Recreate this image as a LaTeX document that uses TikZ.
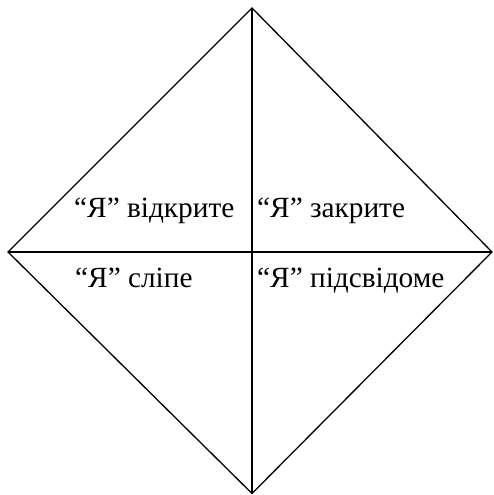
\documentclass[tikz,border=0pt]{standalone}
\usepackage{fontspec}
\setmainfont{Liberation Serif}
\begin{document}
\begin{tikzpicture}[x=1pt,y=1pt,
  edge/.style={draw=black,line width=1.3pt,line join=miter},
  lbl/.style={anchor=base west,inner sep=0pt,font=\fontsize{29.3}{33}\selectfont}]
\useasboundingbox (0,0) rectangle (493,495);
\coordinate (T) at (252,487);
\coordinate (L) at (8,243);
\coordinate (R) at (492,243);
\coordinate (B) at (252,1.5);
\draw[edge] (T) -- (R) -- (B) -- (L) -- cycle;
\draw[edge] (T) -- (B);
\draw[edge] (L) -- (R);
\node[lbl] (a) at (74,277) {“Я” відкрите};
\node[lbl] (b) at (257,277) {“Я” закрите};
\node[lbl] (c) at (75,207) {“Я” сліпе};
\node[lbl] (d) at (257,207) {“Я” підсвідоме};
\end{tikzpicture}
\end{document}
